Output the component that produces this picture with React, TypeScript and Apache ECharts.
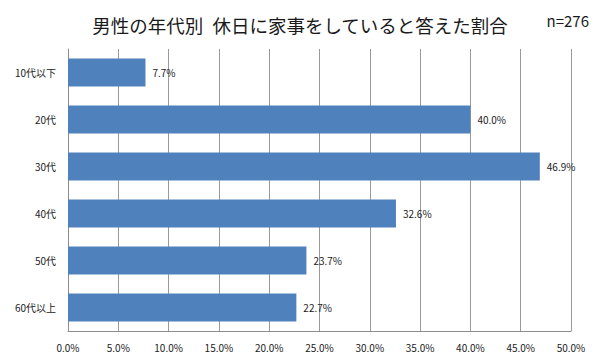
import React, { useEffect, useRef } from "react";
import * as echarts from "echarts";

const categories = ["10代以下", "20代", "30代", "40代", "50代", "60代以上"];
const values = [7.7, 40.0, 46.9, 32.6, 23.7, 22.7];
const titleText = "男性の年代別\u2002休日に家事をしていると答えた割合";
const sampleText = "n=276";
const axisMin = 0;
const axisMax = 50;
const axisStep = 5;

const FONT = '"Noto Sans CJK JP", "Noto Sans", sans-serif';

export default function App() {
  const ref = useRef<HTMLDivElement>(null);
  useEffect(() => {
    if (!ref.current) return;
    const chart = echarts.init(ref.current, null, { renderer: "svg" });
    chart.setOption({
      animation: false,
      backgroundColor: "#ffffff",
      textStyle: { fontFamily: FONT },
      title: [
        {
          text: titleText,
          left: "center",
          top: 11,
          textStyle: { fontSize: 18.5, fontWeight: "normal", color: "#1a1a1a", fontFamily: FONT },
        },
        {
          text: sampleText,
          right: 6,
          top: 8,
          textStyle: { fontSize: 15, fontWeight: "normal", color: "#1a1a1a", fontFamily: FONT },
        },
      ],
      grid: { left: 68, right: 29, top: 49, bottom: 31, containLabel: false },
      xAxis: {
        type: "value",
        min: axisMin,
        max: axisMax,
        interval: axisStep,
        axisLine: { show: true, lineStyle: { color: "#8c8c8c", width: 1 } },
        axisTick: { show: false },
        splitLine: { show: true, lineStyle: { color: "#9a9a9a", width: 1 } },
        axisLabel: {
          formatter: (v: number) => v.toFixed(1) + "%",
          fontSize: 10,
          color: "#222",
          margin: 11,
          fontFamily: FONT,
        },
      },
      yAxis: {
        type: "category",
        data: categories,
        inverse: true,
        axisLine: { show: true, lineStyle: { color: "#8c8c8c", width: 1 } },
        axisTick: { show: false },
        axisLabel: { fontSize: 10, color: "#222", margin: 12, fontFamily: FONT },
      },
      series: [
        {
          type: "bar",
          data: values,
          barWidth: "60%",
          itemStyle: { color: "#4F81BD" },
          label: {
            show: true,
            position: "right",
            distance: 7,
            fontSize: 10,
            color: "#222",
            fontFamily: FONT,
            formatter: (p: any) => Number(p.value).toFixed(1) + "%",
          },
        },
      ],
    });
    return () => chart.dispose();
  }, []);
  return <div ref={ref} style={{ width: 600, height: 362, margin: -8 }} />;
}
